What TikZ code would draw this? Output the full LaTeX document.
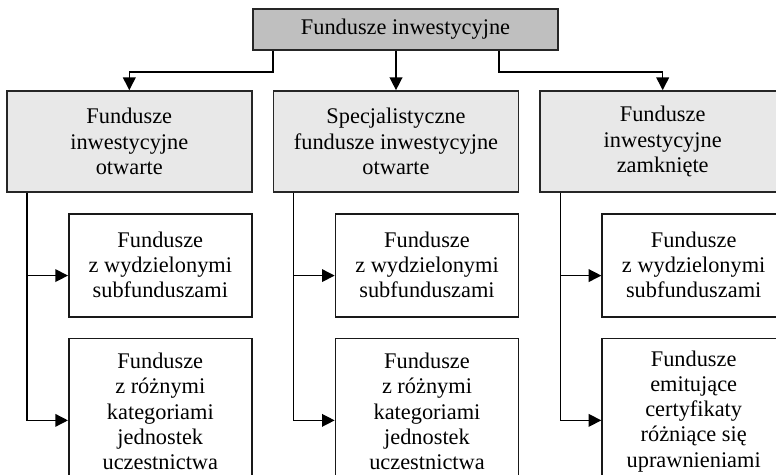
\documentclass[tikz,border=0pt]{standalone}
\usepackage{fontspec}
\setmainfont{Liberation Serif}
\usetikzlibrary{positioning,arrows.meta}

\begin{document}
\begin{tikzpicture}[
      node distance=0.5cm and 0.5cm,
      every node/.style={font=\fontsize{15.9}{18.2}\selectfont, align=center},
      root/.style={rectangle, draw=black!85, line width=1.2pt, fill=black!25,
                   minimum width=7.625cm, minimum height=1.025cm, inner sep=0pt},
      kind/.style={rectangle, draw=black!85, line width=1.2pt, fill=black!9,
                   minimum width=6.125cm, minimum height=2.525cm, inner sep=0pt},
      sub/.style={rectangle, draw=black!90, line width=1.2pt, fill=white,
                  minimum width=4.575cm, inner sep=0pt,
                  font=\fontsize{15.9}{17.9}\selectfont},
      arrow/.style={-{Triangle[length=9pt,width=9pt]}, line width=1pt}
    ]
    \useasboundingbox (0,0) rectangle (19.4,-11.875);
    \clip (0,0) rectangle (19.4,-11.875);

    \node[root] (fi) at (10.1375,-0.7375) {Fundusze inwestycyjne};
    \node[kind] (sfio) at (9.9,-3.5375) {Specjalistyczne\\fundusze inwestycyjne\\otwarte};
    \node[kind, left=of sfio] (fio) {Fundusze\\inwestycyjne\\otwarte};
    \node[kind, right=of sfio] (fiz) {Fundusze\\inwestycyjne\\zamknięte};

    \node[sub, minimum height=2.575cm, below left=0.5cm and 0cm of fio.south east] (fio-a) {Fundusze\\z wydzielonymi\\subfunduszami};
    \node[sub, minimum height=3.65cm, below=of fio-a] (fio-b) {Fundusze\\z różnymi\\kategoriami\\jednostek\\uczestnictwa};
    \node[sub, minimum height=2.575cm, below left=0.5cm and 0cm of sfio.south east] (sfio-a) {Fundusze\\z wydzielonymi\\subfunduszami};
    \node[sub, minimum height=3.65cm, below=of sfio-a] (sfio-b) {Fundusze\\z różnymi\\kategoriami\\jednostek\\uczestnictwa};
    \node[sub, minimum height=2.575cm, below left=0.5cm and 0cm of fiz.south east] (fiz-a) {Fundusze\\z wydzielonymi\\subfunduszami};
    \node[sub, minimum height=3.65cm, below=of fiz-a] (fiz-b) {Fundusze\\emitujące\\certyfikaty\\różniące się\\uprawnieniami};

    % from the root
    \draw[arrow] ([xshift=0.525cm]fi.south west) -- ++(0,-0.525) -| (fio.north);
    \draw[arrow] (fi.south -| sfio.north) -- (sfio.north);
    \draw[arrow] ([xshift=-1.5cm]fi.south east) -- ++(0,-0.525) -| (fiz.north);

    % down each column
    \coordinate (fio-t) at ([xshift=0.525cm]fio.south west);
    \coordinate (sfio-t) at ([xshift=0.525cm]sfio.south west);
    \coordinate (fiz-t) at ([xshift=0.525cm]fiz.south west);
    \draw[arrow] (fio-t) |- ([yshift=-0.26cm]fio-a.west);
    \draw[arrow] (fio-t) |- ([yshift=-0.225cm]fio-b.west);
    \draw[arrow] (sfio-t) |- ([yshift=-0.26cm]sfio-a.west);
    \draw[arrow] (sfio-t) |- ([yshift=-0.225cm]sfio-b.west);
    \draw[arrow] (fiz-t) |- ([yshift=-0.26cm]fiz-a.west);
    \draw[arrow] (fiz-t) |- ([yshift=-0.225cm]fiz-b.west);
  \end{tikzpicture}
\end{document}
